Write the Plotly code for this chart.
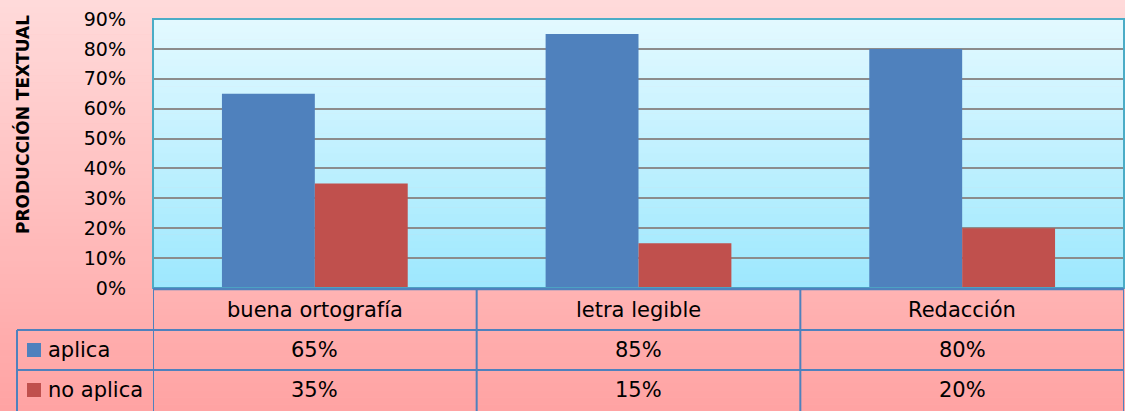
import plotly.graph_objects as go

categories = ["buena ortografía", "letra legible", "Redacción"]
series_names = ["aplica", "no aplica"]
aplica = [0.65, 0.85, 0.80]
no_aplica = [0.35, 0.15, 0.20]
series_colors = ["#4f81bd", "#c0504d"]

W, H = 1125, 411
L, R, T, B = 153, 1124, 19, 288  # plot area in pixels
FONT = "DejaVu Sans"
LINE = "#4f81bd"


def px(x):
    return (x - L) / (R - L)


def py(y):
    return (B - y) / (B - T)


def mix(c0, c1, t):
    return "rgb(%d,%d,%d)" % tuple(round(a + (b - a) * t) for a, b in zip(c0, c1))


fig = go.Figure()
for name, vals, col in zip(series_names, [aplica, no_aplica], series_colors):
    fig.add_trace(go.Bar(x=categories, y=vals, name=name, marker_color=col,
                         marker_line_width=0, showlegend=False))

shapes = []
# pink paper gradient
n = 60
for i in range(n):
    y0, y1 = H * i / n, H * (i + 1) / n
    shapes.append(dict(type="rect", xref="paper", yref="paper", layer="below",
                       x0=px(0), x1=px(W), y0=py(y1 + 0.5), y1=py(y0),
                       line_width=0, fillcolor=mix((255, 218, 218), (255, 163, 163), i / (n - 1))))
# light blue plot-area gradient
n = 40
for i in range(n):
    shapes.append(dict(type="rect", xref="paper", yref="paper", layer="below",
                       x0=0, x1=1, y0=1 - (i + 1) / n - 0.002, y1=1 - i / n,
                       line_width=0, fillcolor=mix((226, 249, 255), (158, 232, 254), i / (n - 1))))
# plot border
shapes.append(dict(type="rect", xref="paper", yref="paper", x0=0, x1=1, y0=0, y1=1,
                   line=dict(color="#4bacc6", width=2)))

# data table lines
for y in [330, 370]:
    shapes.append(dict(type="line", xref="paper", yref="paper", x0=px(17), x1=1,
                       y0=py(y), y1=py(y), line=dict(color=LINE, width=2)))
shapes.append(dict(type="line", xref="paper", yref="paper", x0=0, x1=1,
                   y0=py(289), y1=py(289), line=dict(color=LINE, width=2.5)))
for k in range(len(categories) + 1):
    shapes.append(dict(type="line", xref="x", yref="paper", x0=k - 0.5, x1=k - 0.5,
                       y0=py(289), y1=py(H), line=dict(color=LINE, width=2)))
shapes.append(dict(type="line", xref="paper", yref="paper", x0=px(17), x1=px(17),
                   y0=py(330), y1=py(H), line=dict(color=LINE, width=2)))

cell_font = dict(family=FONT, size=21, color="#000")
annotations = []
for c in categories:
    annotations.append(dict(x=c, xref="x", y=py(310), yref="paper", text=c, showarrow=False,
                            xanchor="center", yanchor="middle", font=cell_font))
for r, (name, vals, col) in enumerate(zip(series_names, [aplica, no_aplica], series_colors)):
    yc = [350, 390][r]
    for c, v in zip(categories, vals):
        annotations.append(dict(x=c, xref="x", y=py(yc), yref="paper", text=f"{v:.0%}",
                                showarrow=False, xanchor="center", yanchor="middle",
                                font=cell_font))
    shapes.append(dict(type="rect", xref="paper", yref="paper", x0=px(27), x1=px(41),
                       y0=py(yc + 7), y1=py(yc - 7), line_width=0, fillcolor=col))
    annotations.append(dict(x=px(46), xref="paper", y=py(yc), yref="paper", text=name,
                            xanchor="left", yanchor="middle", showarrow=False, font=cell_font))

annotations.append(dict(x=px(22), xref="paper", y=py(125), yref="paper",
                        text="<b>PRODUCCIÓN TEXTUAL</b>", textangle=-90, showarrow=False,
                        xanchor="center", yanchor="middle",
                        font=dict(family=FONT, size=17, color="#000")))

fig.update_layout(
    width=W, height=H,
    margin=dict(l=L, r=W - R, t=T, b=H - B),
    paper_bgcolor="#ffc0c0", plot_bgcolor="rgba(0,0,0,0)",
    barmode="group", bargap=0.426, bargroupgap=0,
    shapes=shapes, annotations=annotations,
)
fig.update_xaxes(showticklabels=False, showgrid=False, zeroline=False, range=[-0.5, 2.5])
fig.update_yaxes(range=[0, 0.9], dtick=0.1, tickformat=".0%", showgrid=True,
                 gridcolor="#8c8c8c", gridwidth=2, zeroline=False, ticks="",
                 ticklabelstandoff=26,
                 tickfont=dict(family=FONT, size=19, color="#000"))

fig.write_html("out.html", config={"displayModeBar": False},
               post_script="document.body.style.margin='0';")
